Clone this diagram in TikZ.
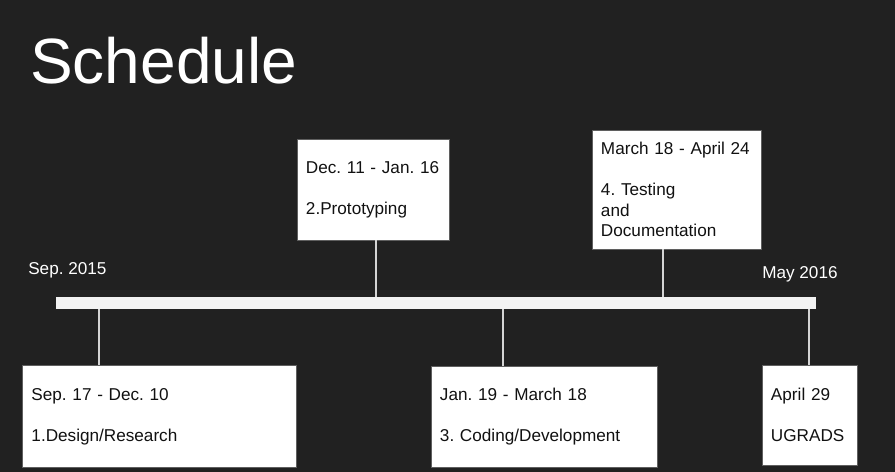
\documentclass[tikz,border=0pt]{standalone}
\usepackage{fontspec}
\setmainfont{Liberation Sans}
\definecolor{slidebg}{HTML}{212121}
\definecolor{barcol}{HTML}{F2F2F2}
\definecolor{stemcol}{HTML}{D4D4D4}
\definecolor{boxline}{HTML}{5F5F5F}
\definecolor{boxtext}{HTML}{111111}
\begin{document}
\begin{tikzpicture}[x=0.025cm,y=-0.025cm,
  font=\fontsize{12.2}{14.6}\selectfont\frenchspacing,
  phase/.style={draw=boxline,fill=white,text=boxtext,align=left,inner xsep=0.225cm,inner ysep=0pt},
  stem/.style={stemcol,line width=1.4pt},
  datelabel/.style={text=white,inner sep=0pt,anchor=base west}]
\fill[slidebg] (0,0) rectangle (895,472);
\useasboundingbox (0,0) rectangle (895,472);
\node[text=white,inner sep=0pt,anchor=base west,font=\fontsize{45.5}{50}\selectfont] (title) at (30,83.5) {Schedule};
% time line
\node[fill=barcol,inner sep=0pt,minimum width=19cm,minimum height=0.3cm] (bar) at (436,303) {};
\node[datelabel] (start) at (28,275) {Sep. 2015};
\node[datelabel] (end) at (762,279) {May 2016};
\coordinate (m1) at (99,303);
\coordinate (m2) at (376,303);
\coordinate (m3) at (503,303);
\coordinate (m4) at (663,303);
\coordinate (m5) at (809,303);
% phases
\node[phase,text width=3.35cm,minimum height=2.525cm] (proto) at (373,189.5) {Dec. 11 - Jan. 16\\[14.6pt]2.Prototyping};
\node[phase,text width=3.775cm,minimum height=2.975cm] (testing) at (676.5,189.5) {March 18 - April 24\\[14.6pt]4. Testing\\and\\Documentation};
\node[phase,text width=6.4cm,minimum height=2.55cm] (design) at (159.5,416.5) {Sep. 17 - Dec. 10\\[14.6pt]1.Design/Research};
\node[phase,text width=5.2cm,minimum height=2.525cm] (coding) at (544,416.5) {Jan. 19 - March 18\\[14.6pt]3. Coding/Development};
\node[phase,text width=1.925cm,minimum height=2.5cm] (ugrads) at (809.5,415) {April 29\\[14.6pt]UGRADS};
\draw[stem] (m2 |- proto.south) -- (m2 |- bar.north);
\draw[stem] (m4 |- testing.south) -- (m4 |- bar.north);
\draw[stem] (m1 |- bar.south) -- (m1 |- design.north);
\draw[stem] (m3 |- bar.south) -- (m3 |- coding.north);
\draw[stem] (m5 |- bar.south) -- (m5 |- ugrads.north);
\end{tikzpicture}
\end{document}
